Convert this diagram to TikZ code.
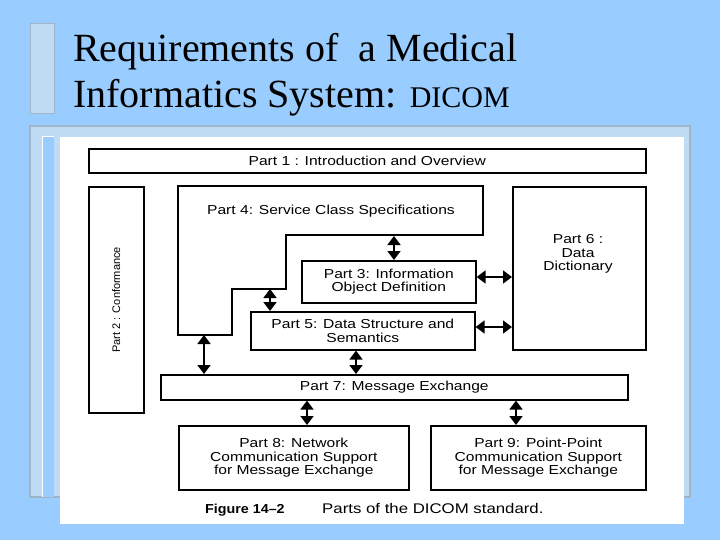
\documentclass[tikz,border=0pt]{standalone}
\usepackage{fontspec}
\usetikzlibrary{arrows.meta}
\setmainfont{Liberation Sans}[FakeStretch=1.2]
\newfontfamily\ttl{Liberation Serif}
\newfontfamily\plainsans{Liberation Sans}[FakeStretch=1.1]
\newfontfamily\narrowsans{Liberation Sans}
\begin{document}
\begin{tikzpicture}[x=1pt,y=-1pt,
  bx/.style={draw=black,line width=1.6pt,fill=white},
  lb/.style={font=\fontsize{13}{13.5}\selectfont,align=center,inner sep=0pt},
  dar/.style={line width=1.8pt,{Triangle[width=13pt,length=9pt]}-{Triangle[width=13pt,length=9pt]}}]
\fill[fill={rgb,255:red,153;green,204;blue,255}] (0,0) rectangle (720,540);
\useasboundingbox (0,0) rectangle (720,540);
% decorations
\draw[fill={rgb,255:red,192;green,220;blue,244},draw={rgb,255:red,160;green,180;blue,200},line width=1pt] (30,24) rectangle (54,114);
\draw[fill={rgb,255:red,192;green,220;blue,244},draw={rgb,255:red,160;green,180;blue,200},line width=1.5pt] (30,126) rectangle (690,497);
\fill[fill={rgb,255:red,153;green,204;blue,255}] (42,137) rectangle (54,497);
\draw[white,line width=1pt] (42,497)--(42,137)--(54,137);
\fill[white] (60,137) rectangle (684,524);
% title
\node[anchor=base west,inner sep=0pt,font=\ttl\fontsize{40}{44}\selectfont] (t1) at (73,62) {Requirements of~ a Medical};
\node[anchor=base west,inner sep=0pt,font=\ttl\fontsize{40}{44}\selectfont] (t2) at (73,108) {Informatics System: {\fontsize{30}{32}\selectfont DICOM}};
% boxes
\node[bx,minimum width=557,minimum height=24,anchor=north west] (p1) at (88,148) {};
\node[lb] at (p1) {Part 1 : Introduction and Overview};
\node[bx,minimum width=55,minimum height=226,anchor=north west] (p2) at (88,186) {};
\node[lb,rotate=90,font=\narrowsans\fontsize{11}{12}\selectfont] at (p2) {Part 2 : Conformance};
\draw[bx] (178,186)--(483,186)--(483,235)--(286,235)--(286,289)--(232,289)--(232,335)--(178,335)--cycle;
\coordinate (p4a) at (394,236);
\coordinate (p4b) at (270,289);
\coordinate (p4c) at (204,335);
\node[lb] (p4) at (331,211) {Part 4: Service Class Specifications};
\node[bx,minimum width=174,minimum height=42,anchor=north west] (p3) at (301,260) {};
\node[lb] at (p3) {Part 3: Information\\Object Definition};
\node[bx,minimum width=224,minimum height=38,anchor=north west] (p5) at (250,311) {};
\node[lb] at (p5) {Part 5: Data Structure and\\Semantics};
\node[bx,minimum width=133,minimum height=163,anchor=north west] (p6) at (512,186) {};
\node[lb] at (578,254) {Part 6 :\\Data\\Dictionary};
\node[bx,minimum width=467,minimum height=25,anchor=north west] (p7) at (160,374) {};
\node[lb] at (p7) {Part 7: Message Exchange};
\node[bx,minimum width=230,minimum height=64,anchor=north west] (p8) at (178,425) {};
\node[lb] at (p8) {Part 8: Network\\Communication Support\\for Message Exchange};
\node[bx,minimum width=215,minimum height=64,anchor=north west] (p9) at (430,425) {};
\node[lb] at (p9) {Part 9: Point-Point\\Communication Support\\for Message Exchange};
% arrows
\draw[dar] (p4a) -- (p3.north -| p4a);
\draw[dar] (p4b) -- (p5.north -| p4b);
\draw[dar] (p4c) -- (p7.north -| p4c);
\draw[dar] (p5.south -| 356,0) -- (p7.north -| 356,0);
\draw[dar] (p3.east |- 0,277) -- (p6.west |- 0,277);
\draw[dar] (p5.east |- 0,327) -- (p6.west |- 0,327);
\draw[dar] (p7.south -| 307,0) -- (p8.north -| 307,0);
\draw[dar] (p7.south -| 516,0) -- (p9.north -| 516,0);
% caption
\node[anchor=base west,inner sep=0pt,font=\plainsans\bfseries\fontsize{13}{14}\selectfont] (c1) at (205,513) {Figure 14–2};
\node[anchor=base west,inner sep=0pt,font=\fontsize{14}{15}\selectfont] (c2) at (322,513) {Parts of the DICOM standard.};
\end{tikzpicture}
\end{document}
